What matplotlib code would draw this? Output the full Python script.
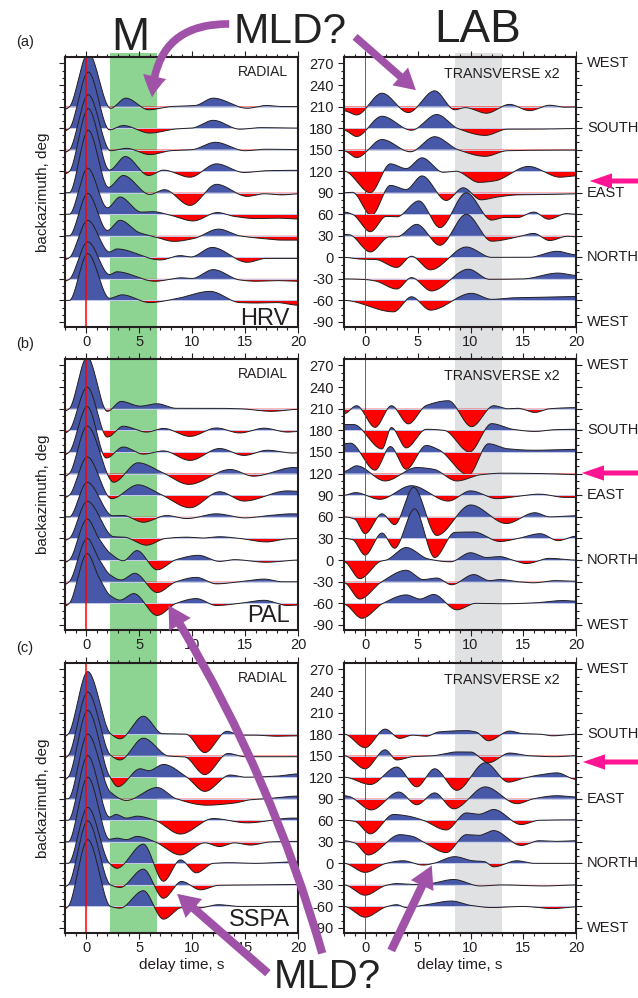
import numpy as np
import matplotlib
matplotlib.use("Agg")
import matplotlib.pyplot as plt
from matplotlib.patches import Rectangle, FancyArrowPatch

plt.rcParams['font.family'] = ['Liberation Sans', 'DejaVu Sans']
plt.rcParams['axes.unicode_minus'] = False

# backazimuth of each stacked trace
baz_ab = [210, 180, 150, 120, 90, 60, 30, 0, -30, -60]
baz_c = [180, 150, 120, 90, 60, 30, 0, -30, -60]

# knots (delay time s, amplitude) for every trace, amplitude in units of trace spacing
hrv_radial = [
    [(-2, -0.12), (-1.6, -0.02), (0.2, 2.5), (2.3, -0.08), (3.75, 0.39), (5.9, -0.15), (8.0, 0.0), (10.3, 0.05), (12.0, 0.39), (15.2, -0.08), (17.0, 0.05), (18.5, 0.0), (20, 0.0)],
    [(-2, -0.12), (-1.6, -0.02), (0.2, 2.6), (2.2, -0.08), (3.5, 0.12), (6.0, -0.23), (8.5, -0.04), (10.0, 0.0), (12.0, 0.36), (14.5, -0.05), (16.5, 0.02), (20, 0.0)],
    [(-2, -0.12), (-1.6, -0.02), (0.2, 2.55), (2.3, -0.05), (3.8, 0.06), (6.0, -0.23), (8.0, -0.05), (10.0, 0.0), (12.2, 0.34), (15.0, -0.05), (17, 0.02), (20, 0.0)],
    [(-2, -0.12), (-1.6, -0.02), (0.2, 2.9), (2.2, 0.05), (3.7, 0.68), (5.9, -0.2), (7.3, 0.05), (9.8, -0.28), (12.3, 0.34), (14.9, -0.06), (17, 0.02), (20, 0.04)],
    [(-2, 0.0), (-1.6, 0.0), (0.2, 2.9), (2.1, 0.25), (3.5, 0.8), (6.0, -0.08), (7.4, 0.14), (9.8, -0.59), (12.3, 0.39), (15.2, -0.17), (16.8, -0.05), (18.5, -0.1), (20, -0.05)],
    [(-2, 0.0), (-1.6, 0.0), (0.15, 2.14), (2.0, 0.3), (3.2, 0.8), (5.2, 0.1), (6.3, 0.12), (8.0, -0.05), (10.1, -0.31), (12.4, 0.08), (14.0, -0.1), (16, -0.2), (18, -0.18), (20, -0.22)],
    [(-2, 0.0), (-1.6, 0.0), (0.15, 1.97), (2.0, 0.25), (3.2, 0.72), (5.0, 0.15), (6.5, -0.05), (8.3, -0.26), (10.2, -0.12), (12.5, 0.31), (14.5, 0.0), (16.5, -0.12), (18.5, -0.2), (20, -0.2)],
    [(-2, -0.1), (-1.6, -0.02), (0.15, 1.72), (2.2, 0.25), (2.9, 0.39), (7.0, -0.12), (8.9, 0.08), (9.9, 0.02), (11.9, 0.46), (15.2, -0.23), (17.0, -0.05), (20, -0.05)],
    [(-2, -0.1), (-1.6, -0.02), (0.15, 1.72), (2.2, 0.2), (2.9, 0.33), (6.5, -0.11), (9.0, 0.05), (10, 0.02), (12.0, 0.43), (14.5, -0.05), (16, -0.11), (18, -0.08), (20, -0.11)],
    [(-2, 0.0), (-1.6, 0.0), (0.15, 2.17), (2.2, 0.1), (3.4, 0.26), (6.0, -0.1), (8.5, 0.08), (11.7, 0.42), (14.5, -0.1), (16, -0.12), (18, -0.1), (20, -0.22)],
]

hrv_transverse = [
    [(-2, -0.2), (-0.8, -0.39), (1.6, 0.62), (4.1, -0.28), (6.6, 0.73), (8.5, -0.15), (9.5, -0.05), (11.5, -0.31), (13.7, 0.1), (15.6, -0.19), (17.5, 0.06), (19, -0.03), (20, -0.02)],
    [(-2, -0.1), (-0.8, -0.39), (1.6, 0.55), (4.4, -0.1), (6.8, 0.63), (8.8, -0.02), (11.4, -0.34), (13.5, -0.05), (16, -0.05), (20, -0.02)],
    [(-2, -0.06), (-0.8, -0.37), (1.6, 0.47), (4.3, -0.1), (6.6, 0.6), (8.8, 0.0), (11.4, -0.31), (13.5, -0.05), (20, -0.02)],
    [(-2, 0.0), (0.5, -1.0), (2.4, 0.34), (3.9, 0.12), (5.4, 0.62), (7.4, -0.05), (8.6, 0.0), (10.8, -0.52), (12.3, -0.45), (15.5, 0.22), (18.5, -0.28), (20, -0.22)],
    [(-2, 0.0), (-1.2, 0.02), (0.6, -1.06), (2.4, 0.34), (3.9, 0.15), (5.4, 0.78), (7.7, -0.36), (9.3, 0.23), (11.0, -0.33), (12.5, -0.2), (14.5, -0.1), (17.5, -0.08), (20, -0.05)],
    [(-2, 0.1), (-1.2, 0.0), (0.5, -0.81), (2.0, -0.1), (3.0, -0.12), (5.1, 0.62), (7.1, -0.62), (9.6, 1.0), (12.0, -0.27), (13.2, -0.15), (14.4, -0.16), (16.0, 0.1), (17.4, -0.23), (19.1, 0.03), (20, 0.0)],
    [(-2, 0.06), (-1.5, 0.05), (0.5, -0.75), (2.3, -0.05), (3.0, -0.05), (4.9, 0.53), (7.1, -0.44), (9.6, 1.0), (12.0, -0.25), (14.5, -0.05), (16.0, 0.11), (17.5, -0.22), (19.2, -0.02), (20, -0.05)],
    [(-2, 0.0), (-0.5, -0.08), (1.0, -0.1), (3.0, -0.47), (4.4, 0.05), (6.2, -0.58), (9.6, 0.48), (12, 0.0), (15.5, 0.0), (18.2, 0.28), (20, 0.12)],
    [(-2, 0.0), (0.0, -0.03), (1.0, -0.1), (3.0, -0.47), (4.4, 0.06), (6.3, -0.56), (9.8, 0.45), (11.8, -0.02), (15, 0.0), (18.3, 0.27), (20, 0.16)],
    [(-2, 0.0), (2.7, -0.53), (4.4, 0.17), (6.2, -0.45), (10.1, 0.33), (12.0, 0.05), (14, 0.12), (17, 0.15), (20, 0.18)],
]

pal_radial = [
    [(-2, -0.1), (-1.6, 0.0), (0.1, 2.4), (2.0, -0.12), (3.3, 0.34), (5.1, 0.12), (6.7, 0.23), (8.5, 0.02), (12, 0.02), (14.5, 0.0), (17.5, -0.12), (20, -0.03)],
    [(-2, -0.12), (-1.6, 0.0), (0.1, 2.0), (2.0, -0.31), (3.5, 0.19), (5.7, -0.08), (7.3, 0.09), (9.8, -0.28), (12.3, 0.11), (14.5, -0.12), (16.8, 0.1), (19, -0.08), (20, -0.05)],
    [(-2, -0.12), (-1.6, 0.0), (0.1, 2.1), (1.9, -0.28), (3.5, 0.23), (5.4, -0.1), (7.3, 0.05), (9.8, -0.39), (12.6, 0.16), (14.9, -0.16), (17.1, 0.08), (19.5, -0.05), (20, -0.04)],
    [(-2, -0.12), (-1.6, 0.0), (0.1, 2.2), (2.6, -0.4), (4.9, 0.5), (7.2, 0.05), (9.7, -0.5), (13.6, 0.19), (15.8, -0.12), (19.6, 0.28), (20, 0.27)],
    [(-2, -0.1), (-1.6, 0.0), (0.1, 1.77), (2.4, -0.16), (4.9, 0.48), (7.0, 0.05), (9.8, -0.58), (12.6, 0.16), (14.9, -0.27), (19.0, 0.2), (20, 0.18)],
    [(-2, 0.0), (-1.6, 0.0), (0.1, 1.6), (2.5, 0.05), (3.5, 0.06), (5.4, -0.25), (7.6, 0.06), (9.5, -0.08), (12.3, 0.14), (15, -0.05), (17, 0.05), (19.5, 0.14), (20, 0.13)],
    [(-2, -0.08), (-1.6, 0.0), (0.1, 1.72), (2.6, 0.08), (3.6, 0.06), (5.7, -0.31), (7.5, 0.0), (9.5, 0.06), (11, 0.02), (12.6, 0.08), (14.5, 0.0), (17.0, -0.16), (19, -0.02), (20, 0.0)],
    [(-2, -0.1), (-1.6, 0.0), (0.1, 1.9), (1.2, 1.0), (2.3, 0.3), (3.5, -0.03), (4.8, 0.44), (6.7, -0.45), (8.5, 0.02), (10.6, 0.22), (12.6, -0.06), (14, 0.02), (17.0, -0.1), (20, 0.0)],
    [(-2, -0.12), (-1.6, 0.0), (0.1, 2.0), (1.2, 1.05), (2.3, 0.3), (3.3, 0.08), (4.6, 0.39), (6.7, -0.5), (8.5, 0.0), (10.4, 0.2), (12.3, -0.1), (14.5, 0.0), (16.8, 0.12), (18.5, 0.0), (20, 0.0)],
    [(-2, -0.12), (-1.6, 0.0), (0.1, 2.3), (1.2, 1.2), (2.3, 0.35), (3.2, 0.15), (4.5, 0.45), (6.7, -0.56), (8.5, 0.0), (10.4, 0.22), (12.3, -0.1), (14.5, 0.0), (16.8, 0.14), (19, -0.1), (20, -0.08)],
]

pal_transverse = [
    [(-2, -0.23), (-0.8, 0.14), (0.95, -0.86), (2.5, 0.14), (4.1, -0.7), (5.8, 0.15), (7.9, 0.37), (10.1, -0.83), (12.2, 0.14), (13.5, 0.0), (14.5, 0.02), (16.1, -0.17), (17.5, 0.0), (20, 0.05)],
    [(-2, 0.27), (-1.1, 0.27), (1.6, -0.86), (2.5, 0.13), (3.9, -0.81), (5.8, 0.05), (7.5, 0.0), (9.9, -1.0), (12.0, 0.31), (14, 0.05), (16.1, -0.05), (18, 0.03), (20, 0.05)],
    [(-2, 0.38), (-1.4, 0.41), (0.95, -0.84), (2.4, 0.25), (3.9, -0.8), (5.8, 0.3), (7.0, 0.1), (9.8, -1.06), (11.7, 0.38), (13.5, 0.15), (16, 0.08), (20, 0.12)],
    [(-2, 0.1), (-0.8, 0.36), (1.9, -0.34), (4.9, 0.28), (6.5, 0.2), (8.7, -0.34), (11, -0.05), (13, 0.02), (17, 0.0), (20, -0.05)],
    [(-2, 0.0), (-0.9, 0.12), (1.4, -0.19), (4.4, 0.44), (7.9, -0.27), (10.0, 0.2), (12.5, -0.16), (14.5, -0.05), (16.5, 0.05), (19, -0.1), (20, -0.1)],
    [(-2, 0.0), (-1.0, -0.1), (0.0, -0.78), (1.6, 0.14), (2.8, -0.36), (4.6, 1.36), (6.8, -0.86), (10.0, 0.55), (13.4, -0.31), (16.1, 0.19), (17.5, 0.0), (20, 0.05)],
    [(-2, 0.0), (-1.2, -0.05), (0.0, -0.77), (1.6, 0.25), (2.8, -0.45), (4.7, 1.37), (6.6, -0.88), (8.5, 0.28), (10.3, 0.3), (12.8, -0.14), (14.5, 0.0), (16.6, 0.22), (18.3, -0.1), (20, 0.1)],
    [(-2, -0.08), (-0.5, -0.86), (1.5, -0.05), (2.0, 0.0), (3.9, 0.58), (6.0, 0.05), (8.1, -0.08), (10.0, 0.34), (11.5, 0.12), (12.8, 0.16), (14, 0.0), (15.3, -0.16), (17.5, 0.08), (20, 0.0)],
    [(-2, -0.05), (-0.5, -0.8), (1.5, -0.03), (3.9, 0.53), (5.5, 0.1), (6.8, 0.17), (8.2, -0.14), (10.3, 0.33), (11.8, 0.05), (12.8, 0.1), (14.5, 0.0), (16, -0.05), (18, 0.05), (20, 0.02)],
    [(-2, -0.05), (-0.3, -0.69), (1.7, 0.0), (3.9, 0.39), (5.2, 0.2), (6.5, 0.41), (8.7, -0.3), (10.5, 0.0), (13, -0.02), (16, 0.02), (18.8, 0.13), (20, 0.1)],
]

sspa_radial = [
    [(-2, -0.1), (-1.7, 0.0), (0.15, 2.9), (2.3, 0.02), (3.2, -0.22), (5.4, 0.83), (7.2, 0.02), (9.4, 0.0), (11.2, -0.86), (13.3, 0.13), (14.5, -0.05), (16, -0.05), (18, -0.1), (20, -0.08)],
    [(-2, -0.1), (-1.7, 0.0), (0.15, 2.95), (2.3, 0.02), (3.2, -0.2), (5.4, 0.81), (7.8, -0.02), (9.3, -0.06), (11.2, -0.88), (13.4, 0.1), (15, -0.05), (20, -0.05)],
    [(-2, -0.1), (-1.7, 0.0), (0.15, 3.1), (2.2, 0.05), (3.0, -0.44), (5.1, 0.39), (5.9, 0.3), (7.3, 0.59), (9.5, 0.0), (11.2, -0.66), (13.6, 0.1), (15, 0.0), (18, 0.05), (20, 0.15)],
    [(-2, 0.0), (-1.7, 0.0), (0.15, 3.0), (2.3, 0.3), (3.8, -0.08), (6.7, 0.52), (8.5, 0.0), (11.4, -0.3), (14, -0.2), (15.5, -0.05), (17, 0.0), (19.9, 0.12)],
    [(-2, 0.0), (-1.7, 0.0), (0.15, 3.0), (2.2, 0.15), (2.8, 0.27), (3.8, 0.1), (4.8, 0.19), (6.5, 0.0), (8.9, -0.64), (12, 0.08), (15.2, -0.12), (19.5, 0.1), (20, 0.1)],
    [(-2, 0.0), (-1.7, 0.0), (0.15, 3.0), (2.2, 0.12), (2.9, 0.17), (3.8, 0.1), (4.8, 0.25), (6.5, 0.0), (8.9, -0.61), (11.2, -0.05), (12.6, -0.22), (14, -0.05), (15.5, -0.15), (17.5, 0.0), (20, 0.02)],
    [(-2, 0.0), (-1.7, 0.0), (0.15, 2.6), (2.2, 0.0), (2.9, -0.23), (5.4, 0.89), (7.3, -0.83), (8.9, 0.16), (10.4, -0.44), (12, 0.0), (13.5, 0.03), (16, 0.0), (20, 0.08)],
    [(-2, -0.08), (-1.7, 0.0), (0.15, 2.97), (2.3, 0.0), (3.2, -0.12), (5.4, 0.73), (7.3, -0.62), (9.0, 0.16), (10.8, -0.23), (12.5, -0.02), (16, 0.0), (20, 0.02)],
    [(-2, -0.1), (-1.7, 0.0), (0.15, 3.1), (2.3, 0.0), (3.2, -0.08), (5.4, 0.73), (7.3, -0.59), (9.0, -0.06), (10.5, -0.08), (12.5, 0.08), (14.5, 0.0), (20, 0.0)],
]

sspa_transverse = [
    [(-2, 0.0), (0.0, -0.63), (1.9, 0.23), (3.3, -0.2), (4.5, -0.05), (5.8, -0.1), (7.0, 0.1), (9.6, 0.16), (10.5, 0.1), (11.7, -0.31), (13.7, 0.14), (15, 0.02), (16.5, 0.0), (17.8, -0.08), (20, 0.0)],
    [(-2, 0.0), (0.0, -0.61), (1.9, 0.27), (3.0, -0.2), (4.5, -0.05), (6.5, 0.0), (8.7, 0.17), (10.0, 0.17), (11.7, -0.33), (13.7, 0.12), (15.5, 0.0), (18, -0.05), (20, 0.0)],
    [(-2, 0.0), (0.5, -0.34), (3.0, 0.47), (4.9, -0.45), (6.6, 0.39), (8.7, -0.61), (11.4, 0.67), (13.6, -0.23), (15, -0.05), (16.5, 0.1), (18.2, 0.2), (20, -0.1)],
    [(-2, 0.14), (-1.5, 0.1), (0.6, -0.52), (3.2, 0.31), (4.9, -0.28), (6.6, 0.27), (8.4, -0.47), (11.4, 0.55), (14.4, -0.23), (16, 0.0), (18.2, 0.14), (20, 0.08)],
    [(-2, 0.0), (-1.0, -0.05), (0.5, -0.63), (2.7, 0.27), (4.0, 0.2), (5.5, 0.0), (7.7, -0.45), (9.6, 0.34), (10.8, 0.28), (12.2, 0.5), (14.8, -0.2), (16.5, 0.0), (20, 0.02)],
    [(-2, 0.05), (-1.0, -0.05), (0.3, -0.61), (3.3, 0.33), (4.5, 0.25), (5.5, 0.0), (7.7, -0.5), (9.6, 0.33), (10.8, 0.3), (12.2, 0.52), (14.8, -0.17), (16.5, 0.05), (18, 0.02), (20, 0.05)],
    [(-2, 0.0), (0.0, -0.42), (2.0, 0.0), (3.6, 0.12), (5.5, -0.08), (6.5, 0.0), (8.5, 0.31), (10.2, 0.12), (11.3, 0.08), (12.2, -0.16), (14.4, 0.12), (16, 0.0), (20, 0.0)],
    [(-2, 0.0), (0.0, -0.48), (2.0, -0.02), (3.0, 0.06), (4.5, 0.02), (6.0, 0.05), (8.4, 0.25), (10.9, -0.05), (13, 0.0), (17, -0.05), (20, 0.0)],
    [(-2, 0.0), (0.0, -0.5), (2.0, -0.02), (3.0, 0.08), (3.9, -0.05), (5.5, 0.05), (8.2, 0.25), (10, 0.05), (12, -0.05), (15, 0.0), (17.8, -0.1), (20, -0.02)],
]

stations = ['HRV', 'PAL', 'SSPA']
compass_baz = [270, 180, 90, 0, -90]
compass_names = ['WEST', 'SOUTH', 'EAST', 'NORTH', 'WEST']

BLUE = '#4858a8'
RED = '#ff0000'
INK = '#231f20'
SPACING = 30.0

W, H = 638, 998


def fx(px):
    return px / W


def fy(py):
    return 1 - py / H


def pchip(x, y, xi):
    # shape-preserving cubic through the picked extrema
    x = np.asarray(x, float)
    y = np.asarray(y, float)
    h = np.diff(x)
    d = np.diff(y) / h
    m = np.zeros_like(y)
    for k in range(1, len(x) - 1):
        if d[k - 1] * d[k] > 0:
            w1 = 2 * h[k] + h[k - 1]
            w2 = h[k] + 2 * h[k - 1]
            m[k] = (w1 + w2) / (w1 / d[k - 1] + w2 / d[k])
    i = np.clip(np.searchsorted(x, xi) - 1, 0, len(x) - 2)
    s = (xi - x[i]) / h[i]
    h00 = 2 * s**3 - 3 * s**2 + 1
    h10 = s**3 - 2 * s**2 + s
    h01 = -2 * s**3 + 3 * s**2
    h11 = s**3 - s**2
    return h00 * y[i] + h10 * h[i] * m[i] + h01 * y[i + 1] + h11 * h[i] * m[i + 1]


def draw_traces(ax, bazs, traces):
    t = np.linspace(-2, 20, 2201)
    for k, (baz, knots) in enumerate(zip(bazs, traces)):
        kt, ka = zip(*knots)
        y = baz + SPACING * pchip(kt, ka, t)
        z = 2 + k
        ax.fill_between(t, baz, y, where=y >= baz, interpolate=True,
                        color=BLUE, lw=0, zorder=z)
        ax.fill_between(t, baz, y, where=y <= baz, interpolate=True,
                        color=RED, lw=0, zorder=z)
        ax.plot([-2, 20], [baz, baz], color='#c4cbea', lw=0.7, zorder=z + 0.1)
        ax.plot(t, y, color=INK, lw=0.7, zorder=z + 0.2)


fig = plt.figure(figsize=(W / 100, H / 100), dpi=100)

# green Moho window and grey LAB window running through all three rows
left_x0, left_w = 65, 233
right_x0, right_w = 344, 232
g0 = left_x0 + left_w * (2.25 + 2) / 22
g1 = left_x0 + left_w * (6.65 + 2) / 22
k0 = right_x0 + right_w * (8.5 + 2) / 22
k1 = right_x0 + right_w * (13.0 + 2) / 22
for a, b, c in [(g0, g1, '#8dd392'), (k0, k1, '#e0e1e3')]:
    fig.patches.append(Rectangle((fx(a), fy(933)), (b - a) / W, (933 - 53) / H,
                                 transform=fig.transFigure, color=c, lw=0, zorder=-5))

rows = [(57, 327), (359, 630), (663, 933)]
radial = [hrv_radial, pal_radial, sspa_radial]
transverse = [hrv_transverse, pal_transverse, sspa_transverse]
bazs = [baz_ab, baz_ab, baz_c]
name_base = [325, 622, 926]

for r, (top, bot) in enumerate(rows):
    for c, (x0, w) in enumerate([(left_x0, left_w), (right_x0, right_w)]):
        ax = fig.add_axes([fx(x0), fy(bot), w / W, (bot - top) / H])
        ax.set_facecolor('none')
        ax.set_xlim(-2, 20)
        ax.set_ylim(-97, 279)
        draw_traces(ax, bazs[r], radial[r] if c == 0 else transverse[r])
        ax.axvline(0, color=RED, lw=1.1 if c == 0 else 0.6, zorder=50)

        for sp in ax.spines.values():
            sp.set_linewidth(1.5)
            sp.set_color(INK)
            sp.set_zorder(60)
        ax.set_xticks([0, 5, 10, 15, 20])
        ax.set_xticks(np.arange(-2, 21, 1), minor=True)
        ax.set_yticks(np.arange(-90, 271, 30))
        ax.set_yticks(np.arange(-90, 271, 10), minor=True)
        ax.tick_params(which='both', direction='out', colors=INK, width=0.8,
                       labelsize=10.5, top=True, bottom=True)
        ax.tick_params(which='major', length=4, pad=2)
        ax.tick_params(which='minor', length=2)
        ax.tick_params(axis='y', which='major', pad=3.6)
        if c == 0:
            ax.tick_params(axis='y', which='both', left=True, right=False, labelleft=False)
            ax.text(0.965, (bot - name_base[r]) / (bot - top), stations[r],
                    transform=ax.transAxes, ha='right', va='baseline',
                    fontsize=17, color=INK, zorder=70)
            ax.text(0.955, 1 - 19 / (bot - top), 'RADIAL', transform=ax.transAxes,
                    ha='right', va='baseline', fontsize=10, color=INK, zorder=70)
        else:
            ax.tick_params(axis='y', which='both', left=True, right=True,
                           labelleft=True, labelright=False)
            ax.text(0.93, 1 - 21 / (bot - top), 'TRANSVERSE x2', transform=ax.transAxes,
                    ha='right', va='baseline', fontsize=10.3, color=INK, zorder=70)
            for b, name in zip(compass_baz, compass_names):
                ax.text(1 + 11 / w, b, name, transform=ax.get_yaxis_transform(),
                        ha='left', va='center', fontsize=10.5, color=INK)
        if r == 2:
            fig.text(fx(x0 + w / 2), fy(965), 'delay time, s', ha='center',
                     va='center', fontsize=11, color=INK)

    fig.text(fx(25), fy(top - 15), '(%s)' % 'abc'[r], ha='center', va='center',
             fontsize=10.5, color=INK)
    fig.text(fx(43), fy((top + bot) / 2), 'backazimuth, deg', rotation=90,
             ha='center', va='center', fontsize=11, color=INK)

# annotations on top of the panels
big = dict(color='#222222', ha='center', va='baseline')
fig.text(fx(130), fy(50), 'M', fontsize=33, **big)
fig.text(fx(290), fy(43), 'MLD?', fontsize=30.5, **big)
fig.text(fx(478), fy(42), 'LAB', fontsize=33, **big)
fig.text(fx(327), fy(988), 'MLD?', fontsize=29, **big)

PURPLE = '#a052a8'
PINK = '#ff1493'


def arrow(p0, p1, color, tail, hw, hl, rad=0.0):
    a = FancyArrowPatch((fx(p0[0]), fy(p0[1])), (fx(p1[0]), fy(p1[1])),
                        transform=fig.transFigure,
                        arrowstyle='simple,tail_width=%g,head_width=%g,head_length=%g' % (tail, hw, hl),
                        connectionstyle='arc3,rad=%g' % rad, mutation_scale=1,
                        color=color, lw=0, zorder=80)
    fig.patches.append(a)


arrow((232, 24), (152, 100), PURPLE, 5.5, 17, 15, rad=0.5)
arrow((353, 35), (418, 92), PURPLE, 5.5, 17, 15)
arrow((323, 956), (167, 603), PURPLE, 6, 18, 16, rad=0.07)
arrow((270, 975), (175, 892), PURPLE, 6, 18, 16)
arrow((390, 953), (433, 863), PURPLE, 6, 18, 16)

arrow((645, 181), (587, 181), PINK, 3.6, 11, 16)
arrow((645, 473), (579, 473), PINK, 3.6, 11, 16)
arrow((645, 762), (580, 762), PINK, 3.6, 11, 16)

fig.savefig('out.png', dpi=100)
